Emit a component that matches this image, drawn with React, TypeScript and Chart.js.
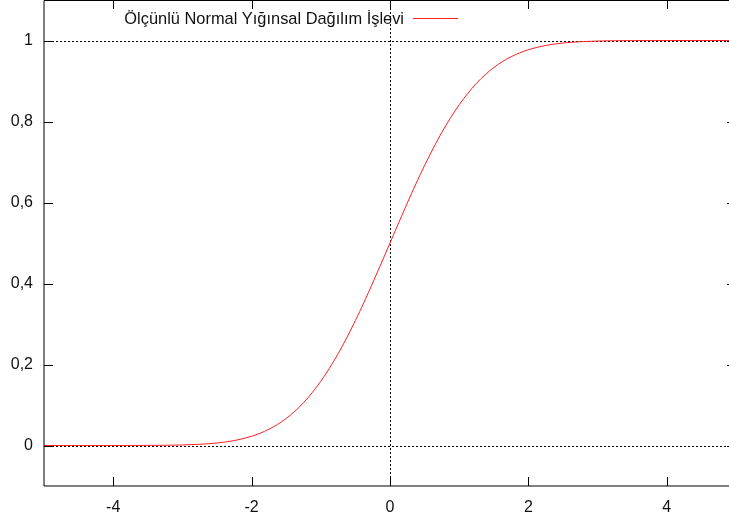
import { useEffect, useRef } from "react";
import { Chart, registerables } from "chart.js";

Chart.register(...registerables);

// Values
const xValues = [-5, -4.5, -4, -3.5, -3, -2.75, -2.5, -2.25, -2, -1.75, -1.5, -1.25, -1, -0.75, -0.5, -0.25, 0, 0.25, 0.5, 0.75, 1, 1.25, 1.5, 1.75, 2, 2.25, 2.5, 2.75, 3, 3.5, 4, 4.5, 5];
const cdfValues = [0, 0, 0, 0.0002, 0.0013, 0.003, 0.0062, 0.0122, 0.0228, 0.0401, 0.0668, 0.1056, 0.1587, 0.2266, 0.3085, 0.4013, 0.5, 0.5987, 0.6915, 0.7734, 0.8413, 0.8944, 0.9332, 0.9599, 0.9772, 0.9878, 0.9938, 0.997, 0.9987, 0.9998, 1, 1, 1];
const xTicks = [-4, -2, 0, 2, 4];
const yTicks = [0, 0.2, 0.4, 0.6, 0.8, 1];
const yTickLabels = ["0", "0,2", "0,4", "0,6", "0,8", "1"];
const refLinesY = [0, 1];
const refLinesX = [0];
const seriesLabel = "Ölçünlü Normal Yığınsal Dağılım İşlevi";

const FONT = "Liberation Sans, Arial, sans-serif";
const TEXT = "#111";
const RED = "#ff2020";

const gnuplotPlugin = {
  id: "gnuplotDeco",
  beforeDatasetsDraw(chart: any) {
    const { ctx, chartArea: a, scales } = chart;
    const x = scales.x;
    const y = scales.y;
    ctx.save();
    ctx.strokeStyle = "#000";
    ctx.lineWidth = 1;
    ctx.setLineDash([2, 2]);
    refLinesY.forEach((v) => {
      const py = Math.round(y.getPixelForValue(v)) + 0.5;
      ctx.beginPath();
      ctx.moveTo(a.left, py);
      ctx.lineTo(a.right, py);
      ctx.stroke();
    });
    refLinesX.forEach((v) => {
      const px = Math.round(x.getPixelForValue(v)) + 0.5;
      ctx.beginPath();
      ctx.moveTo(px, a.top);
      ctx.lineTo(px, a.bottom);
      ctx.stroke();
    });
    ctx.restore();
  },
  afterDatasetsDraw(chart: any) {
    const { ctx, chartArea: a, scales } = chart;
    const x = scales.x;
    const y = scales.y;
    const tl = 9;
    ctx.save();
    ctx.setLineDash([]);
    ctx.strokeStyle = "#000";
    ctx.lineWidth = 1;
    // border
    ctx.beginPath();
    ctx.rect(a.left, a.top + 0.5, a.right - a.left, a.bottom - a.top - 0.5);
    ctx.stroke();
    // ticks (inward, mirrored)
    ctx.beginPath();
    xTicks.forEach((v) => {
      const px = Math.round(x.getPixelForValue(v)) + 0.5;
      ctx.moveTo(px, a.bottom);
      ctx.lineTo(px, a.bottom - tl);
      ctx.moveTo(px, a.top);
      ctx.lineTo(px, a.top + tl);
    });
    yTicks.forEach((v) => {
      const py = Math.round(y.getPixelForValue(v)) + 0.5;
      ctx.moveTo(a.left, py);
      ctx.lineTo(a.left + tl, py);
      ctx.moveTo(a.right, py);
      ctx.lineTo(a.right - tl, py);
    });
    ctx.stroke();
    // legend (gnuplot style: text then sample)
    const ds = chart.data.datasets[0];
    ctx.font = `16.4px ${FONT}`;
    ctx.fillStyle = TEXT;
    ctx.textAlign = "right";
    ctx.textBaseline = "middle";
    ctx.fillText(ds.label, 404, 19);
    ctx.strokeStyle = ds.borderColor;
    ctx.lineWidth = 1;
    ctx.beginPath();
    ctx.moveTo(413, 18.5);
    ctx.lineTo(458, 18.5);
    ctx.stroke();
    ctx.restore();
  },
};

export default function App() {
  const ref = useRef<HTMLCanvasElement | null>(null);
  useEffect(() => {
    document.body.style.margin = "0";
    if (!ref.current) return;
    const chart = new Chart(ref.current, {
      type: "line",
      data: {
        datasets: [
          {
            label: seriesLabel,
            data: xValues.map((v, i) => ({ x: v, y: cdfValues[i] })),
            borderColor: RED,
            borderWidth: 1,
            pointRadius: 0,
            fill: false,
            cubicInterpolationMode: "monotone",
          },
        ],
      },
      options: {
        animation: false,
        responsive: false,
        events: [],
        layout: { padding: { top: 0, left: 0, right: 2, bottom: 0 } },
        plugins: { legend: { display: false }, tooltip: { enabled: false } },
        scales: {
          x: {
            type: "linear",
            min: -5,
            max: 5,
            grid: { display: false, drawTicks: false },
            border: { display: false },
            afterBuildTicks: (s: any) => {
              s.ticks = xTicks.map((v) => ({ value: v }));
            },
            afterFit: (s: any) => {
              s.height = 35;
              s.paddingLeft = 0;
              s.paddingRight = 0;
            },
            ticks: {
              color: TEXT,
              font: { family: FONT, size: 16 },
              padding: 12,
              maxRotation: 0,
              callback: (v: any) => String(v),
            },
          },
          y: {
            type: "linear",
            min: -0.1,
            max: 1.1,
            grid: { display: false, drawTicks: false },
            border: { display: false },
            afterBuildTicks: (s: any) => {
              s.ticks = yTicks.map((v) => ({ value: v }));
            },
            afterFit: (s: any) => {
              s.width = 44;
              s.paddingTop = 0;
              s.paddingBottom = 0;
            },
            ticks: {
              color: TEXT,
              font: { family: FONT, size: 16 },
              padding: 11,
              callback: (v: any) => {
                const i = yTicks.findIndex((t) => Math.abs(t - v) < 1e-9);
                return i >= 0 ? yTickLabels[i] : "";
              },
            },
          },
        },
      },
      plugins: [gnuplotPlugin],
    });
    return () => chart.destroy();
  }, []);
  return (
    <div style={{ width: 729, height: 521, overflow: "hidden", background: "#fff" }}>
      <canvas ref={ref} width={738} height={521} style={{ display: "block" }} />
    </div>
  );
}
